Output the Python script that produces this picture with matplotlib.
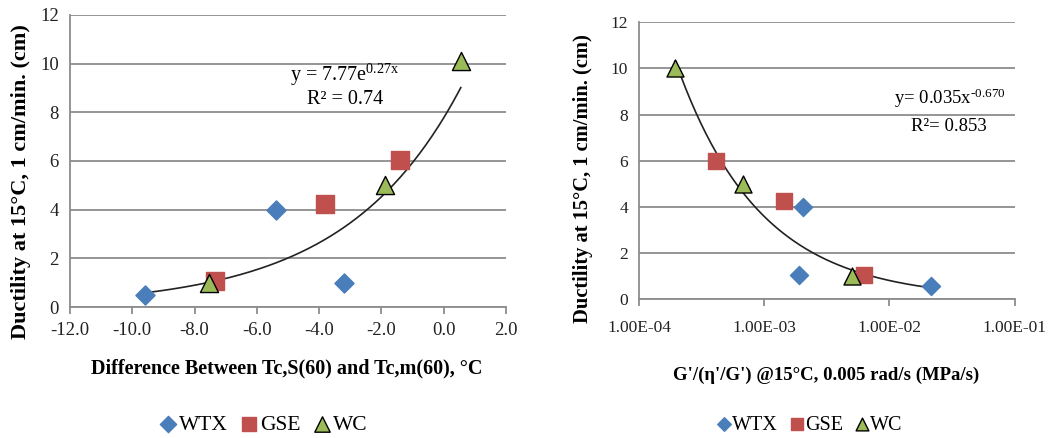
import numpy as np
import matplotlib
matplotlib.use("Agg")
import matplotlib.pyplot as plt

# ===================== 数据 =====================
# 左图: Tc,S(60) - Tc,m(60) 差值 vs 延度
left_wtx_x = [-9.6, -5.4, -3.2]
left_wtx_y = [0.5, 4.0, 1.0]
left_gse_x = [-7.35, -3.8, -1.4]
left_gse_y = [1.05, 4.25, 6.05]
left_wc_x = [-7.55, -1.9, 0.55]
left_wc_y = [1.0, 5.0, 10.1]
left_fit_a, left_fit_b = 7.77, 0.27          # y = a*e^(b x)

# 右图: G'/(eta'/G') vs 延度 (对数坐标)
right_wtx_x = [2.05e-3, 1.9e-3, 2.15e-2]
right_wtx_y = [4.0, 1.05, 0.55]
right_gse_x = [4.15e-4, 1.43e-3, 6.3e-3]
right_gse_y = [6.0, 4.25, 1.05]
right_wc_x = [1.95e-4, 6.8e-4, 5.0e-3]
right_wc_y = [10.0, 5.0, 1.0]

left_xticks = [-12.0, -10.0, -8.0, -6.0, -4.0, -2.0, 0.0, 2.0]
right_xticks = [1e-4, 1e-3, 1e-2, 1e-1]
right_xticklabels = ["1.00E-04", "1.00E-03", "1.00E-02", "1.00E-01"]
yticks = [0, 2, 4, 6, 8, 10, 12]

# ===================== 样式 =====================
plt.rcParams["font.family"] = ["Liberation Serif", "DejaVu Serif"]
plt.rcParams["mathtext.fontset"] = "custom"
plt.rcParams["mathtext.rm"] = "Liberation Serif"
plt.rcParams["mathtext.it"] = "Liberation Serif:italic"

BLUE = "#4a7ebb"
RED = "#c0504d"
GREEN = "#9bbb59"
GRID = "#8c8c8c"

fig = plt.figure(figsize=(10.58, 4.38), dpi=100)
ax1 = fig.add_axes([0.0662, 0.299, 0.412, 0.667])
ax2 = fig.add_axes([0.604, 0.317, 0.355, 0.632])


def style_axes(ax, tick_size):
    ax.set_ylim(0, 12)
    ax.set_yticks(yticks)
    ax.yaxis.grid(True, color=GRID, linewidth=1.3)
    ax.set_axisbelow(True)
    for s in ["top", "right"]:
        ax.spines[s].set_visible(False)
    for s in ["left", "bottom"]:
        ax.spines[s].set_color(GRID)
        ax.spines[s].set_linewidth(1.3)
    ax.tick_params(axis="y", length=0, labelsize=tick_size, pad=8, colors="#222222")
    ax.tick_params(axis="x", length=5, width=1.3, color=GRID, labelsize=tick_size,
                   pad=6, labelcolor="#222222")
    ax.tick_params(axis="x", which="minor", length=0)


# ---------- 左图 ----------
style_axes(ax1, 13.5)
ax1.set_xlim(-12, 2)
ax1.set_xticks(left_xticks)
ax1.set_xticklabels([f"{v:.1f}" for v in left_xticks])

xf = np.linspace(min(left_wtx_x), max(left_wc_x), 200)
ax1.plot(xf, left_fit_a * np.exp(left_fit_b * xf), color="#222222", lw=1.2, zorder=2)
ax1.scatter(left_wtx_x, left_wtx_y, marker="D", s=95, color=BLUE, zorder=3, label="WTX")
ax1.scatter(left_gse_x, left_gse_y, marker="s", s=150, color=RED, zorder=3, label="GSE")
ax1.scatter(left_wc_x, left_wc_y, marker="^", s=170, color=GREEN, edgecolor="black",
            linewidth=1.0, zorder=4, label="WC")

ax1.text(0.63, 0.795, r"y = 7.77e$^{\mathrm{0.27x}}$", transform=ax1.transAxes,
         ha="center", va="center", fontsize=14.5)
ax1.text(0.63, 0.71, "R² = 0.74", transform=ax1.transAxes,
         ha="center", va="center", fontsize=14.5)

ax1.set_xlabel("Difference Between Tc,S(60) and Tc,m(60), °C", fontsize=14.5,
               fontweight="bold")
ax1.set_ylabel("Ductility at 15°C, 1 cm/min. (cm)", fontsize=16, fontweight="bold")
ax1.xaxis.set_label_coords(0.498, -0.209)
ax1.xaxis.label.set_va("center")
ax1.yaxis.set_label_coords(-0.113, 0.43)
ax1.yaxis.label.set_va("center")

ax1.legend(loc="center", bbox_to_anchor=(0.443, -0.404), ncol=3, frameon=False,
           fontsize=15.5, handlelength=0.8, handletextpad=0.1, columnspacing=0.6,
           markerscale=0.85, scatterpoints=1)

# ---------- 右图 ----------
style_axes(ax2, 12.5)
ax2.set_xscale("log")
ax2.set_xlim(1e-4, 1e-1)
ax2.set_xticks(right_xticks)
ax2.set_xticklabels(right_xticklabels)
ax2.tick_params(axis="x", pad=10)

# 幂函数趋势线: 对全部点在对数空间做最小二乘拟合
all_x = np.array(right_wtx_x + right_gse_x + right_wc_x)
all_y = np.array(right_wtx_y + right_gse_y + right_wc_y)
b_fit, ln_a = np.polyfit(np.log(all_x), np.log(all_y), 1)
xf2 = np.logspace(np.log10(min(right_wc_x)), np.log10(max(right_wtx_x)), 200)
ax2.plot(xf2, np.exp(ln_a) * xf2 ** b_fit, color="#222222", lw=1.2, zorder=2)
ax2.scatter(right_wtx_x, right_wtx_y, marker="D", s=85, color=BLUE, zorder=3, label="WTX")
ax2.scatter(right_gse_x, right_gse_y, marker="s", s=140, color=RED, zorder=3, label="GSE")
ax2.scatter(right_wc_x, right_wc_y, marker="^", s=150, color=GREEN, edgecolor="black",
            linewidth=1.0, zorder=4, label="WC")

ax2.text(0.975, 0.725, r"y= 0.035x$^{\mathrm{\text{-}0.670}}$", transform=ax2.transAxes,
         ha="right", va="center", fontsize=13.5)
ax2.text(0.825, 0.625, "R²= 0.853", transform=ax2.transAxes,
         ha="center", va="center", fontsize=13.5)

ax2.set_xlabel("G'/(η'/G') @15°C, 0.005 rad/s (MPa/s)", fontsize=13.5, fontweight="bold")
ax2.set_ylabel("Ductility at 15°C, 1 cm/min. (cm)", fontsize=14.8, fontweight="bold")
ax2.xaxis.set_label_coords(0.499, -0.275)
ax2.xaxis.label.set_va("center")
ax2.yaxis.set_label_coords(-0.15, 0.434)
ax2.yaxis.label.set_va("center")

ax2.legend(loc="center", bbox_to_anchor=(0.454, -0.455), ncol=3, frameon=False,
           fontsize=14.5, handlelength=0.7, handletextpad=0.05, columnspacing=0.6,
           markerscale=0.75, scatterpoints=1)

fig.savefig("out.png", dpi=100)
plt.close(fig)
